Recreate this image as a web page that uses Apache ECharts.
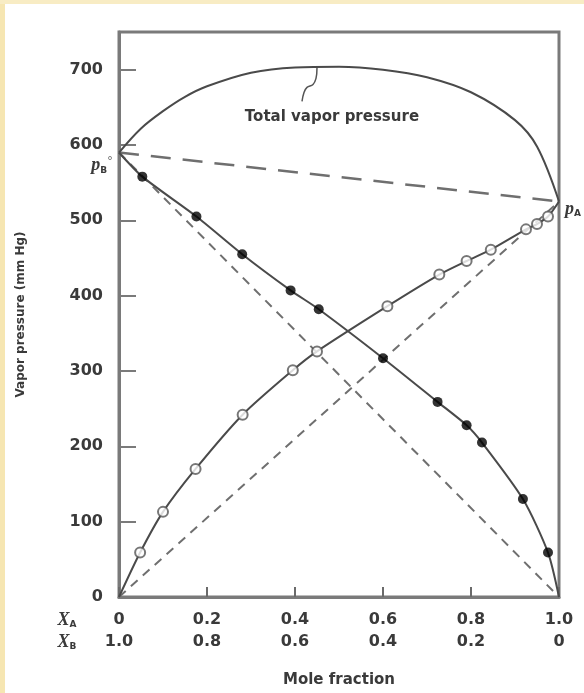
<!DOCTYPE html>
<html>
<head>
<meta charset="utf-8">
<script src="https://cdn.jsdelivr.net/npm/echarts@6/dist/echarts.min.js"></script>
<style>
html, body { margin: 0; padding: 0; background: #fff; }
#vaporChart { width: 584px; height: 693px; }
</style>
</head>
<body>
<div id="vaporChart"></div>
<script>
// tick labels for the two mole fraction rows
const xTicks = [0, 0.2, 0.4, 0.6, 0.8, 1.0];
const xaLabels = ["0", "0.2", "0.4", "0.6", "0.8", "1.0"];
const xbLabels = ["1.0", "0.8", "0.6", "0.4", "0.2", "0"];

// pure component vapor pressures (mm Hg)
const pAPure = 525;
const pBPure = 590;

// measured partial pressure of A (open circles)
const xAOpen = [0.048, 0.10, 0.174, 0.281, 0.395, 0.45, 0.61, 0.728, 0.79, 0.845, 0.925, 0.95, 0.975];
const pAOpen = [59, 113, 170, 242, 301, 326, 386, 428, 446, 461, 488, 495, 505];

// measured partial pressure of B (filled circles)
const xAFilled = [0.053, 0.176, 0.28, 0.39, 0.454, 0.6, 0.724, 0.79, 0.825, 0.918, 0.975];
const pBFilled = [558, 505, 455, 407, 382, 317, 259, 228, 205, 130, 59];

// total vapor pressure curve
const xATotal = [0, 0.05, 0.1, 0.15, 0.2, 0.3, 0.4, 0.5, 0.6, 0.7, 0.8, 0.9, 0.95, 1.0];
const pTotal = [590, 622, 645, 664, 678, 696, 703, 704, 700, 690, 670, 633, 598, 525];

const pair = (xs, ys) => xs.map((x, i) => [x, ys[i]]);

const chart = echarts.init(document.getElementById("vaporChart"));
const font = "DejaVu Sans";
const ink = "#3a3a3a";

let option = {
	backgroundColor: "#fff",
	animation: false,
	grid: {
		left: 119,
		right: 25,
		top: 32,
		bottom: 91,
		show: true,
		borderColor: "#7a7a7a",
		borderWidth: 3,
	},
	xAxis: {
		type: "value",
		min: 0,
		max: 1,
		interval: 0.2,
		name: "Mole fraction",
		nameLocation: "middle",
		nameGap: 76,
		nameTextStyle: { fontFamily: font, fontWeight: "bold", fontSize: 15, color: ink },
		axisLine: { show: true, lineStyle: { color: "#7a7a7a", width: 3 } },
		axisTick: { show: true, inside: true, length: 10, lineStyle: { color: "#6a6a6a", width: 2 } },
		splitLine: { show: false },
		axisLabel: {
			margin: 12,
			fontFamily: font,
			fontWeight: "bold",
			fontSize: 16,
			color: ink,
			lineHeight: 22,
			formatter: function (v) {
				let i = xTicks.findIndex((t) => Math.abs(t - v) < 1e-6);
				return xaLabels[i] + "\n" + xbLabels[i];
			},
		},
	},
	yAxis: {
		type: "value",
		min: 0,
		max: 750,
		interval: 100,
		name: "Vapor pressure (mm Hg)",
		nameLocation: "middle",
		nameGap: 92,
		nameRotate: 90,
		nameTextStyle: { fontFamily: font, fontWeight: "bold", fontSize: 12, color: ink },
		axisLine: { show: true, lineStyle: { color: "#7a7a7a", width: 3 } },
		axisTick: { show: true, inside: true, length: 17, lineStyle: { color: "#7a7a7a", width: 2 } },
		splitLine: { show: false },
		axisLabel: {
			margin: 16,
			showMaxLabel: false,
			fontFamily: font,
			fontWeight: "bold",
			fontSize: 16,
			color: ink,
		},
	},
	series: [
		{
			// ideal total pressure (Raoult), long dashes
			type: "line",
			data: [[0, pBPure], [1, pAPure]],
			symbol: "none",
			lineStyle: { color: "#6f6f6f", width: 2.5, type: [20, 12] },
			z: 2,
		},
		{
			// ideal partial pressure of B
			type: "line",
			data: [[0, pBPure], [1, 0]],
			symbol: "none",
			lineStyle: { color: "#6f6f6f", width: 2, type: [9, 7] },
			z: 2,
		},
		{
			// ideal partial pressure of A
			type: "line",
			data: [[0, 0], [1, pAPure]],
			symbol: "none",
			lineStyle: { color: "#6f6f6f", width: 2, type: [9, 7] },
			z: 2,
		},
		{
			// total vapor pressure
			type: "line",
			data: pair(xATotal, pTotal),
			symbol: "none",
			smooth: 0.35,
			lineStyle: { color: "#4a4a4a", width: 2 },
			z: 3,
		},
		{
			// partial pressure of A curve
			type: "line",
			data: [[0, 0]].concat(pair(xAOpen, pAOpen), [[1, pAPure]]),
			symbol: "none",
			smooth: 0.25,
			lineStyle: { color: "#4a4a4a", width: 2 },
			z: 3,
		},
		{
			// partial pressure of B curve
			type: "line",
			data: [[0, pBPure]].concat(pair(xAFilled, pBFilled), [[1, 0]]),
			symbol: "none",
			smooth: 0.25,
			lineStyle: { color: "#4a4a4a", width: 2 },
			z: 3,
		},
		{
			type: "scatter",
			data: pair(xAOpen, pAOpen),
			symbol: "circle",
			symbolSize: 10,
			itemStyle: { color: "#fff", borderColor: "#555", borderWidth: 2 },
			z: 4,
		},
		{
			type: "scatter",
			data: pair(xAFilled, pBFilled),
			symbol: "circle",
			symbolSize: 10,
			itemStyle: { color: "#000" },
			z: 4,
		},
	],
};
chart.setOption(option, true);

// annotations anchored to data positions
let peak = chart.convertToPixel({ gridIndex: 0 }, [0.45, 703]);
let textAt = chart.convertToPixel({ gridIndex: 0 }, [0.484, 637]);
let origin = chart.convertToPixel({ gridIndex: 0 }, [0, 0]);
let pBAt = chart.convertToPixel({ gridIndex: 0 }, [0, pBPure]);
let pAAt = chart.convertToPixel({ gridIndex: 0 }, [1, pAPure]);

const italicRich = {
	p: { fontFamily: "Liberation Serif", fontStyle: "italic", fontWeight: "bold", fontSize: 18, fill: ink },
	s: { fontFamily: font, fontWeight: "bold", fontSize: 9, fill: ink, verticalAlign: "bottom", padding: [7, 0, 0, 0] },
	d: { fontFamily: font, fontSize: 12, fill: "#777", verticalAlign: "top", padding: [0, 0, 8, 0] },
};

chart.setOption({
	graphic: [
		{ type: "rect", shape: { x: 0, y: 0, width: 5, height: 693 }, style: { fill: "#f6e6b2" }, silent: true },
		{ type: "rect", shape: { x: 0, y: 0, width: 584, height: 4 }, style: { fill: "#f8ecc4" }, silent: true },
		{
			type: "polyline",
			shape: {
				points: [
					[peak[0], peak[1]],
					[peak[0] - 1, peak[1] + 11],
					[peak[0] - 4, peak[1] + 17],
					[peak[0] - 10, peak[1] + 20],
					[peak[0] - 13, peak[1] + 25],
					[peak[0] - 15, peak[1] + 34],
				],
				smooth: 0.4,
			},
			style: { stroke: "#555", lineWidth: 1.5, fill: null },
		},
		{
			type: "text",
			x: textAt[0],
			y: textAt[1],
			style: {
				text: "Total vapor pressure",
				align: "center",
				verticalAlign: "middle",
				font: "bold 15px 'DejaVu Sans'",
				fill: ink,
			},
		},
		{
			type: "text",
			x: pBAt[0] - 6,
			y: pBAt[1] + 13,
			style: { text: "{p|p}{s|B}{d|°}", align: "right", verticalAlign: "middle", rich: italicRich },
		},
		{
			type: "text",
			x: pAAt[0] + 6,
			y: pAAt[1] + 8,
			style: { text: "{p|p}{s|A}", align: "left", verticalAlign: "middle", rich: italicRich },
		},
		{
			type: "text",
			x: origin[0] - 52,
			y: origin[1] + 23,
			style: { text: "{p|X}{s|A}", align: "center", verticalAlign: "middle", rich: italicRich },
		},
		{
			type: "text",
			x: origin[0] - 52,
			y: origin[1] + 45,
			style: { text: "{p|X}{s|B}", align: "center", verticalAlign: "middle", rich: italicRich },
		},
	],
});

window.addEventListener("resize", () => {
	chart.resize();
});
</script>
</body>
</html>
